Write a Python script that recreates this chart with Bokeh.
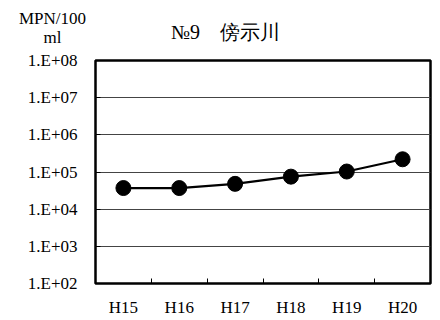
from bokeh.plotting import figure
from bokeh.models import (FixedTicker, CustomJSTickFormatter, Range1d,
                          ColumnDataSource, Label)
from bokeh.embed import file_html
from bokeh.resources import INLINE

# ---- data ----
years = ["H15", "H16", "H17", "H18", "H19", "H20"]
mpn = [3.7e4, 3.7e4, 4.8e4, 7.5e4, 1.03e5, 2.2e5]
y_ticks = [1e2, 1e3, 1e4, 1e5, 1e6, 1e7, 1e8]
title_text = "№9\u3000傍示川"
unit_lines = ["MPN/100", "ml"]

FONT = "Liberation Serif"

xs = [i + 0.5 for i in range(len(years))]
bounds = [i for i in range(1, len(years))]
src = ColumnDataSource(dict(x=xs, y=mpn, label=years))

p = figure(frame_width=335, frame_height=223, y_axis_type="log",
           x_range=Range1d(0, len(years)),
           y_range=Range1d(y_ticks[0], y_ticks[-1]),
           output_backend="svg", toolbar_location=None,
           min_border_left=95, min_border_right=4,
           min_border_top=60, min_border_bottom=30)

p.line("x", "y", source=src, line_color="black", line_width=2.2)
p.scatter("x", "y", source=src, size=15, fill_color="black", line_color="black")

p.outline_line_color = "black"
p.outline_line_width = 2.5

# y axis
p.yaxis.ticker = FixedTicker(ticks=y_ticks, minor_ticks=[])
p.yaxis.formatter = CustomJSTickFormatter(code="""
const e = Math.round(Math.log10(tick));
return '1.E' + (e < 0 ? '-' : '+') + String(Math.abs(e)).padStart(2, '0');
""")
p.yaxis.major_tick_in = 5
p.yaxis.major_tick_out = 0
p.yaxis.minor_tick_in = 0
p.yaxis.minor_tick_out = 0
p.yaxis.axis_line_color = None
p.yaxis.major_label_standoff = 18
p.yaxis.major_label_text_font = FONT
p.yaxis.major_label_text_font_size = "17px"
p.yaxis.major_label_text_color = "black"
p.yaxis.major_tick_line_color = "black"

# x axis
p.xaxis.ticker = FixedTicker(ticks=xs, minor_ticks=bounds)
p.xaxis.formatter = CustomJSTickFormatter(args=dict(labels=years),
                                          code="return labels[Math.floor(tick)];")
p.xaxis.major_tick_in = 0
p.xaxis.major_tick_out = 0
p.xaxis.minor_tick_in = 5
p.xaxis.minor_tick_out = 0
p.xaxis.minor_tick_line_color = "black"
p.xaxis.axis_line_color = None
p.xaxis.major_label_standoff = 14
p.xaxis.major_label_text_font = FONT
p.xaxis.major_label_text_font_size = "17px"
p.xaxis.major_label_text_color = "black"

# grid
p.xgrid.visible = False
p.ygrid.ticker = FixedTicker(ticks=y_ticks, minor_ticks=[])
p.ygrid.grid_line_color = "#444444"
p.ygrid.grid_line_width = 1

# header texts, placed in the panel above the frame (stacked outward)
for txt, lx, ly, fs in [(unit_lines[1], -43, 23, "17px"),
                        (unit_lines[0], -43, 23, "17px"),
                        (title_text, 130, -9, "20px")]:
    p.add_layout(Label(x=lx, y=ly, x_units="screen", y_units="screen", text=txt,
                       text_align="center", text_baseline="middle",
                       text_font=FONT, text_font_size=fs, text_color="black"),
                 "above")

open("out.html", "w").write(file_html(p, INLINE))
